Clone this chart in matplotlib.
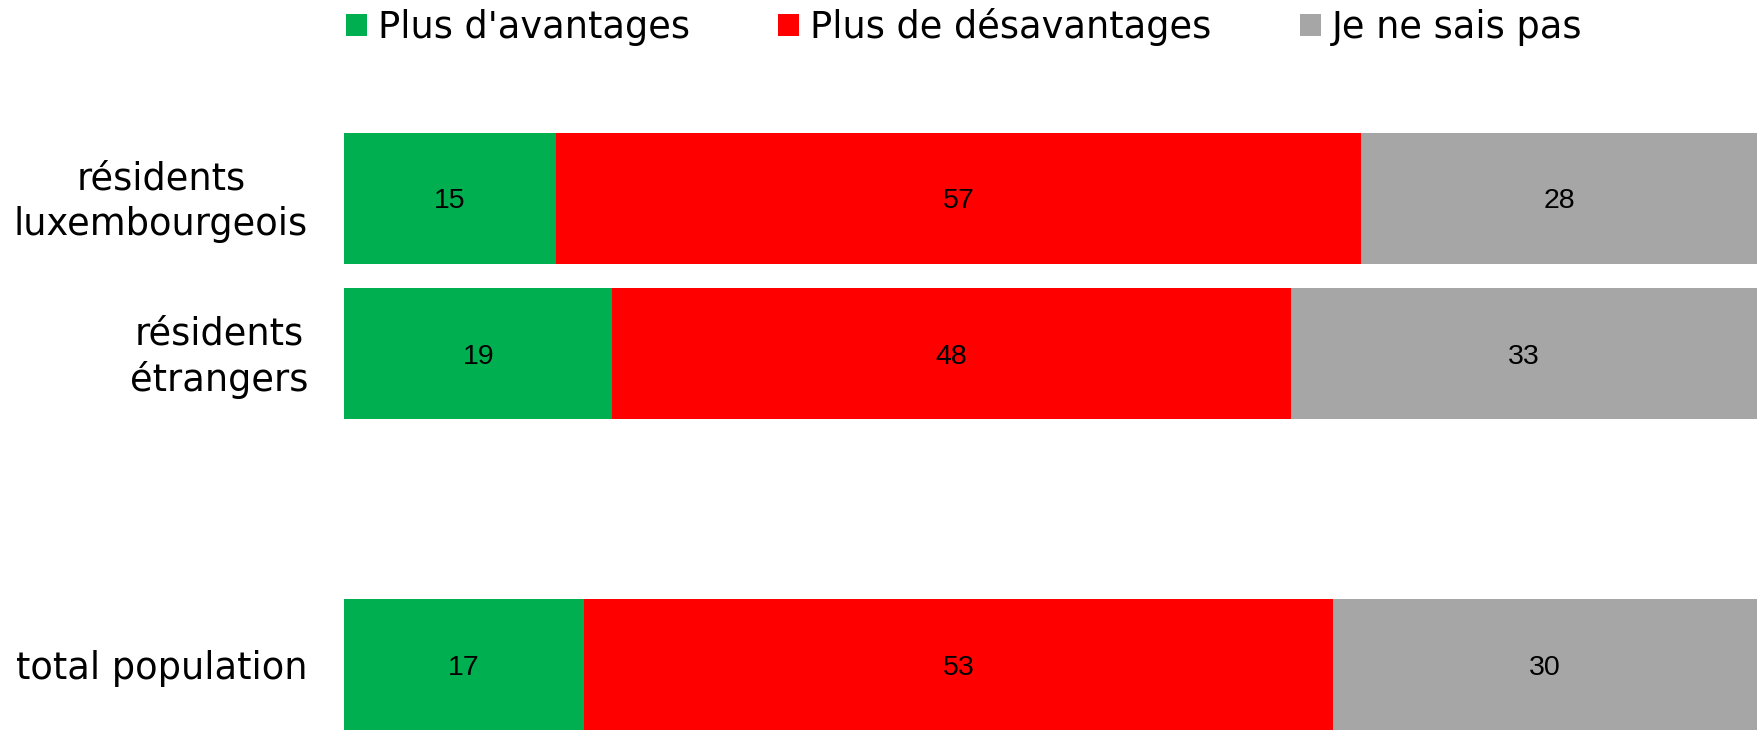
#!/usr/bin/env python3
# -*- coding: utf-8 -*-
"""Stacked horizontal bars: advantages / disadvantages / don't know."""

import numpy as np
import matplotlib
matplotlib.use("Agg")
import matplotlib.pyplot as plt
import matplotlib.transforms as mtransforms


# Data
CATEGORIES = ["résidents\nluxembourgeois", "résidents\nétrangers", "total population"]
SERIES = ["Plus d'avantages", "Plus de désavantages", "Je ne sais pas"]
AVANTAGES = [15, 19, 17]
DESAVANTAGES = [57, 48, 53]
NE_SAIS_PAS = [28, 33, 30]

# Layout / style
COLORS = ["#00B050", "#FF0000", "#A6A6A6"]
ROW_POS = [0, 1, 3]  # empty slot between the groups and the total
BAR_HEIGHT = 0.84
OUT_PATH = "out.png"


def main():
    fig = plt.figure(figsize=(17.64, 7.30), dpi=100)
    ax = fig.add_axes([344 / 1764, 0, 1413 / 1764, 597 / 730])

    values = np.array([AVANTAGES, DESAVANTAGES, NE_SAIS_PAS], dtype=float)
    left = np.zeros(len(CATEGORIES))
    for name, vals, color in zip(SERIES, values, COLORS):
        bars = ax.barh(ROW_POS, vals, left=left, height=BAR_HEIGHT,
                       color=color, label=name, linewidth=0)
        texts = ax.bar_label(bars, labels=[f"{v:g}" for v in vals],
                             label_type="center", fontsize=20.5,
                             family="Liberation Sans", color="black")
        for t in texts:
            t.set_va("center_baseline")
        left += vals

    ax.set_xlim(0, 100)
    ax.set_ylim(3.42, -0.42)
    ax.set_yticks(ROW_POS)
    ax.set_yticklabels(CATEGORIES, fontsize=26.5, family="DejaVu Sans",
                       multialignment="center", linespacing=1.27, va="center")
    ax.tick_params(axis="y", length=0, pad=26)
    # nudge category labels a few pixels down
    shift = mtransforms.ScaledTranslation(0, -0.035, fig.dpi_scale_trans)
    for lab in ax.get_yticklabels():
        lab.set_transform(lab.get_transform() + shift)
    ax.set_xticks([])
    for s in ax.spines.values():
        s.set_visible(False)

    fig.legend(loc="center left", bbox_to_anchor=(346 / 1764, 1 - 27 / 730),
               ncol=3, frameon=False, borderpad=0,
               borderaxespad=0, handlelength=0.57, handleheight=0.57,
               handletextpad=0.3, columnspacing=2.4,
               prop={"family": "DejaVu Sans", "size": 26.5})

    fig.savefig(OUT_PATH, dpi=100)


if __name__ == "__main__":
    main()
